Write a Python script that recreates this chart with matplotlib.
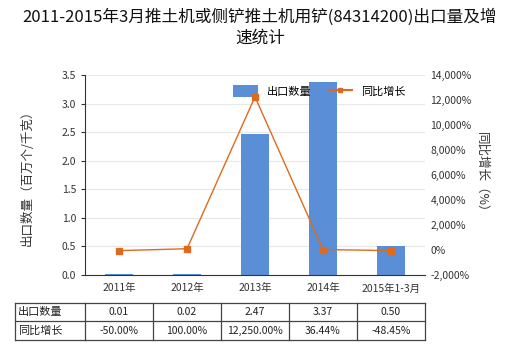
import matplotlib
matplotlib.use("Agg")
import matplotlib.pyplot as plt
from matplotlib.lines import Line2D
import matplotlib.transforms as mtransforms

plt.rcParams['font.family'] = ['Noto Sans CJK SC', 'DejaVu Sans']

categories = ['2011年', '2012年', '2013年', '2014年', '2015年1-3月']
export_qty = [0.01, 0.02, 2.47, 3.37, 0.50]
growth = [-50.00, 100.00, 12250.00, 36.44, -48.45]
qty_labels = ['0.01', '0.02', '2.47', '3.37', '0.50']
growth_labels = ['-50.00%', '100.00%', '12,250.00%', '36.44%', '-48.45%']
left_ticks = [0.0, 0.5, 1.0, 1.5, 2.0, 2.5, 3.0, 3.5]
right_ticks = [-2000, 0, 2000, 4000, 6000, 8000, 10000, 12000, 14000]

W, H = 520, 350
fig = plt.figure(figsize=(W / 100, H / 100), dpi=100)
ax = fig.add_axes([85 / W, 1 - 275 / H, 340 / W, 200 / H])
ax2 = ax.twinx()

bar_color = '#5A8ED6'
line_color = '#DD6B1F'
x = list(range(len(categories)))

ax.set_xlim(-0.5, len(categories) - 0.5)
ax.set_ylim(0, 3.5)
ax.set_yticks(left_ticks)
ax.set_yticklabels([f'{v:.1f}' for v in left_ticks], fontsize=7.5, color='#333333')
ax.set_xticks(x)
ax.set_xticklabels(categories, fontsize=7.5, color='#333333')
ax.tick_params(axis='x', length=0, pad=6)
ax.tick_params(axis='y', length=3, color='#333333')
ax.grid(axis='y', color='#E8E8E8', linewidth=0.8, zorder=0)
ax.set_axisbelow(True)
for s in ['top', 'right']:
    ax.spines[s].set_visible(False)
ax.spines['left'].set_color('#333333')
ax.spines['bottom'].set_color('#333333')
ax.set_ylabel('出口数量（百万个/千克）', fontsize=9, color='#333333', labelpad=20)

ax2.set_ylim(-2000, 14000)
ax2.set_yticks(right_ticks)
ax2.set_yticklabels([f'{v:,}%' for v in right_ticks], fontsize=7.5, color='#333333')
ax2.tick_params(axis='y', length=0, pad=4)
for s in ['top', 'left', 'bottom', 'right']:
    ax2.spines[s].set_visible(False)
ax2.set_ylabel('同比增长（%）', fontsize=9, color='#333333', rotation=270, labelpad=12)

bar_proxy = ax.bar([0], [0], color=bar_color)
line_proxy, = ax.plot([], [], color=line_color, linewidth=1.5, marker='s', markersize=3)
ax.legend([bar_proxy, line_proxy], ['出口数量', '同比增长'], loc='upper center',
          bbox_to_anchor=(0.69, 1.0), ncol=2, frameon=False, fontsize=8,
          handlelength=2.2, handleheight=1.3, columnspacing=1.5)

ax.bar(x, export_qty, width=0.4, color=bar_color, zorder=2)
ax2.plot(x, growth, color=line_color, linewidth=1.0, marker='s', markersize=4, zorder=3)

fig.suptitle('2011-2015年3月推土机或侧铲推土机用铲(84314200)出口量及增\n速统计',
             fontsize=12, y=0.975, color='#111111', linespacing=1.3)

# table
trans = mtransforms.blended_transform_factory(ax.transData, fig.transFigure)
def fy(py):
    return 1 - py / H
y_top, y_mid, y_bot = fy(303), fy(321), fy(340)
x_left_fig = 15 / W
edge = '#444444'
for yy in (y_top, y_mid, y_bot):
    fig.add_artist(Line2D([x_left_fig, 85 / W], [yy, yy], color=edge, lw=0.9,
                          transform=fig.transFigure))
    fig.add_artist(Line2D([-0.5, len(categories) - 0.5], [yy, yy], color=edge, lw=0.9,
                          transform=trans))
fig.add_artist(Line2D([x_left_fig, x_left_fig], [y_top, y_bot], color=edge, lw=0.9,
                      transform=fig.transFigure))
for i in range(len(categories) + 1):
    xx = i - 0.5
    fig.add_artist(Line2D([xx, xx], [y_top, y_bot], color=edge, lw=0.9, transform=trans))
fig.text(x_left_fig + 3 / W, (y_top + y_mid) / 2, '出口数量', fontsize=8, va='center',
         ha='left', color='#222222')
fig.text(x_left_fig + 3 / W, (y_mid + y_bot) / 2, '同比增长', fontsize=8, va='center',
         ha='left', color='#222222')
for i in range(len(categories)):
    fig.text(i, (y_top + y_mid) / 2, qty_labels[i], fontsize=7.5, ha='center',
             va='center', transform=trans, color='#222222')
    fig.text(i, (y_mid + y_bot) / 2, growth_labels[i], fontsize=7.5, ha='center',
             va='center', transform=trans, color='#222222')

fig.savefig('out.png', dpi=100)
